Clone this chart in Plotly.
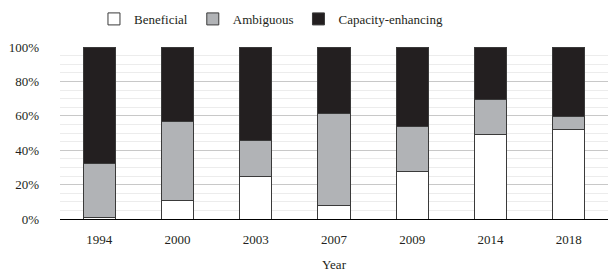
import plotly.graph_objects as go

years = ["1994", "2000", "2003", "2007", "2009", "2014", "2018"]
beneficial = [0.01, 0.11, 0.25, 0.08, 0.275, 0.49, 0.52]
ambiguous = [0.315, 0.455, 0.205, 0.535, 0.26, 0.205, 0.075]
capacity = [0.675, 0.435, 0.545, 0.385, 0.465, 0.305, 0.405]

series = [
    ("Beneficial", beneficial, "#ffffff"),
    ("Ambiguous", ambiguous, "#b1b3b6"),
    ("Capacity-enhancing", capacity, "#231f20"),
]

fig = go.Figure()
for name, vals, color in series:
    fig.add_trace(go.Bar(
        x=years, y=vals, name=name, width=0.41,
        marker=dict(color=color, line=dict(color="#3a3a3a", width=1)),
    ))

font = "Liberation Serif"
fig.update_layout(
    barmode="stack",
    width=611, height=273,
    margin=dict(l=60, r=3, t=47, b=54, autoexpand=False),
    paper_bgcolor="white", plot_bgcolor="white",
    font=dict(family=font, size=13, color="#231f20"),
    legend=dict(orientation="h", x=0.385, xanchor="center",
                y=1.163, yanchor="middle", traceorder="normal",
                font=dict(family=font, size=13), itemwidth=30, tracegroupgap=0),
    xaxis=dict(showline=True, linecolor="#000000", linewidth=1, automargin=False,
               ticks="", ticklabelstandoff=8,
               tickfont=dict(family=font, size=13),
               title=dict(text="Year", standoff=14, font=dict(family=font, size=13))),
    yaxis=dict(range=[0, 1], tickformat=".0%", dtick=0.2, automargin=False,
               showgrid=True, gridcolor="#c8c8c8", gridwidth=1,
               zeroline=False, ticks="", ticklabelstandoff=20,
               tickfont=dict(family=font, size=13),
               minor=dict(dtick=0.05, showgrid=True, gridcolor="#ececec", gridwidth=1)),
)

fig.write_html("out.html", config={"displayModeBar": False},
               post_script="document.body.style.margin='0';")
